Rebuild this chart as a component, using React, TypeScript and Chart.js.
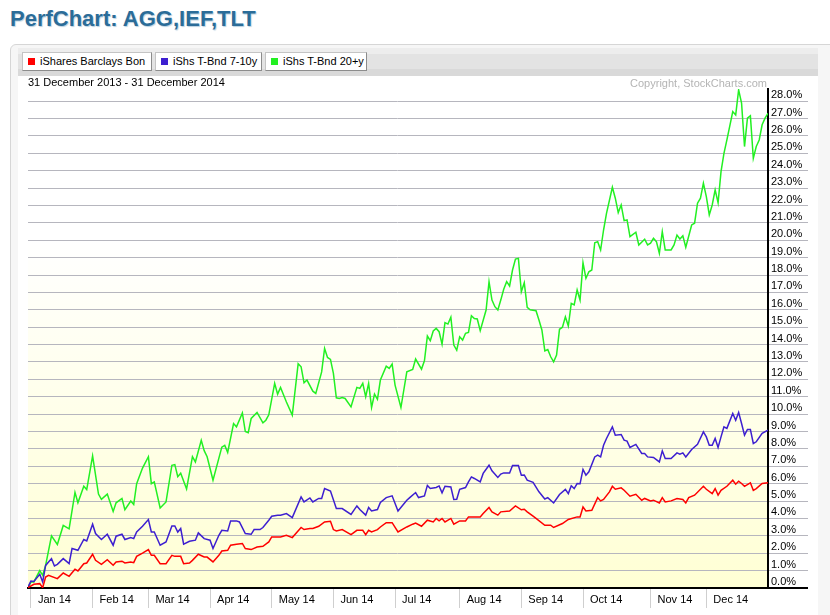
import React, { useEffect, useRef } from 'react';
import { Chart, registerables } from 'chart.js';

Chart.register(...registerables);

// ---- data ----
const seriesNames = ['iShares Barclays Bon', 'iShs T-Bnd 7-10y', 'iShs T-Bnd 20+y'];
const seriesColors = ['#ff0000', '#3d1fd0', '#22f022'];
const dateRange = '31 December 2013 - 31 December 2014';
const monthLabels = ['Jan 14', 'Feb 14', 'Mar 14', 'Apr 14', 'May 14', 'Jun 14', 'Jul 14', 'Aug 14', 'Sep 14', 'Oct 14', 'Nov 14', 'Dec 14'];
// trading-day index (0 = 31 Dec 2013) of the first trading day of each month
const monthStartDays = [1, 22, 41, 62, 83, 104, 125, 147, 168, 189, 212, 231];
const lastTradingDay = 252;
const yMaxPct = 28.7;

// AGG (red)
const aggDays = [0, 2, 4, 5, 6, 7, 10, 12, 14, 16, 17, 19, 20, 22, 23, 25, 27, 29, 30, 32, 33, 35, 36, 37, 39, 41, 42, 43, 45, 47, 49, 50, 52, 53, 55, 56, 58, 60, 61, 63, 65, 66, 68, 69, 71, 73, 74, 76, 78, 80, 82, 83, 86, 88, 90, 93, 94, 96, 97, 99, 101, 103, 104, 105, 107, 110, 112, 114, 115, 116, 117, 119, 120, 122, 124, 126, 129, 131, 132, 134, 136, 138, 139, 140, 141, 142, 144, 145, 147, 149, 150, 154, 155, 157, 158, 160, 161, 164, 166, 168, 169, 170, 172, 173, 176, 178, 179, 182, 184, 187, 188, 189, 190, 192, 194, 195, 196, 198, 199, 200, 202, 203, 205, 207, 209, 210, 212, 213, 215, 216, 217, 219, 221, 223, 224, 225, 227, 230, 231, 233, 234, 235, 236, 238, 240, 241, 242, 243, 244, 246, 247, 248, 250, 252];
const aggValues = [0.02, 0.21, 0.25, 0.02, 0.63, 0.73, 0.54, 0.86, 0.67, 1.08, 0.98, 1.4, 1.44, 1.94, 1.59, 1.36, 1.63, 1.31, 1.5, 1.54, 1.44, 1.5, 1.46, 1.82, 2.01, 2.21, 1.88, 1.88, 1.4, 1.4, 1.88, 1.82, 1.82, 1.4, 1.44, 1.59, 1.94, 1.78, 1.78, 1.5, 1.88, 2.13, 2.17, 2.46, 2.52, 2.56, 2.27, 2.21, 2.36, 2.4, 2.65, 2.94, 2.94, 3.03, 2.9, 3.48, 3.36, 3.42, 3.42, 3.55, 3.8, 3.84, 3.36, 3.28, 3.36, 3.07, 3.32, 3.32, 3.07, 3.32, 3.22, 3.36, 3.51, 3.76, 3.76, 3.22, 3.51, 3.67, 3.74, 3.55, 3.9, 3.8, 4.0, 3.86, 4.0, 3.8, 4.0, 3.67, 3.86, 3.86, 4.09, 4.09, 4.28, 4.63, 4.38, 4.19, 4.38, 4.43, 4.72, 4.5, 4.53, 4.38, 4.13, 4.0, 3.61, 3.61, 3.48, 3.71, 3.94, 4.09, 4.09, 4.66, 4.43, 4.47, 5.2, 5.01, 5.09, 5.53, 5.85, 5.68, 5.76, 5.62, 5.28, 5.39, 5.05, 5.15, 5.01, 5.05, 4.89, 5.2, 4.95, 5.01, 5.15, 5.09, 4.89, 5.2, 5.34, 5.85, 5.68, 5.43, 5.72, 5.34, 5.62, 5.85, 6.2, 5.97, 6.14, 6.01, 5.85, 6.05, 5.62, 5.72, 6.01, 6.05];

// IEF (blue)
const iefDays = [0, 1, 2, 4, 5, 6, 8, 9, 10, 12, 14, 15, 17, 19, 20, 22, 23, 25, 27, 29, 30, 32, 33, 35, 36, 37, 39, 41, 42, 43, 45, 47, 49, 50, 51, 52, 53, 55, 57, 58, 60, 62, 63, 65, 66, 68, 69, 71, 72, 74, 76, 77, 79, 80, 82, 83, 85, 86, 88, 90, 93, 94, 96, 97, 99, 100, 101, 103, 105, 107, 110, 112, 113, 115, 116, 117, 119, 120, 122, 124, 126, 129, 130, 132, 133, 135, 136, 137, 139, 140, 141, 142, 144, 145, 146, 147, 149, 150, 151, 152, 154, 155, 157, 158, 160, 161, 162, 164, 165, 167, 168, 169, 170, 172, 174, 176, 177, 179, 181, 183, 184, 185, 186, 187, 188, 189, 190, 191, 193, 194, 195, 196, 197, 199, 200, 202, 203, 204, 205, 207, 209, 210, 211, 213, 215, 216, 217, 219, 221, 222, 223, 224, 226, 228, 230, 231, 232, 233, 234, 235, 236, 237, 238, 240, 241, 242, 243, 244, 245, 246, 247, 248, 250, 252];
const iefValues = [0.06, 0.4, 0.38, 0.79, 0.35, 1.3, 1.69, 1.27, 1.36, 1.69, 1.4, 2.27, 2.17, 2.79, 2.71, 3.67, 3.13, 2.79, 3.09, 2.46, 2.98, 3.09, 2.79, 2.9, 2.84, 3.22, 3.55, 3.94, 3.22, 3.22, 2.46, 2.65, 3.57, 3.57, 3.22, 3.42, 2.52, 2.69, 2.75, 3.17, 2.84, 2.75, 2.27, 3.03, 3.32, 3.28, 3.86, 3.86, 3.8, 3.13, 3.09, 3.36, 3.36, 3.48, 3.9, 4.13, 4.19, 4.19, 4.28, 4.05, 5.24, 4.95, 5.18, 4.95, 5.15, 5.15, 5.72, 5.58, 4.57, 4.57, 4.23, 4.72, 4.51, 4.19, 4.63, 4.43, 4.51, 4.92, 5.2, 5.3, 4.43, 5.05, 5.2, 5.49, 5.2, 5.3, 5.9, 5.72, 5.78, 5.87, 5.47, 5.85, 5.81, 5.09, 5.1, 5.68, 5.78, 6.1, 6.39, 6.3, 6.1, 6.59, 7.06, 6.74, 6.36, 6.55, 6.62, 6.62, 7.05, 7.05, 6.49, 6.5, 6.2, 6.08, 5.53, 5.12, 5.2, 4.89, 5.38, 5.67, 5.43, 5.88, 5.72, 6.01, 6.0, 6.82, 6.49, 6.68, 7.54, 7.64, 7.54, 8.21, 8.6, 9.27, 8.79, 8.83, 8.5, 8.45, 8.08, 8.26, 7.74, 7.74, 7.54, 7.51, 7.25, 7.89, 7.45, 7.45, 7.77, 7.7, 7.77, 7.54, 7.97, 8.26, 8.98, 8.69, 8.21, 8.21, 8.6, 8.08, 8.69, 9.27, 9.18, 10.04, 9.65, 10.1, 9.46, 8.79, 9.12, 9.12, 8.31, 8.41, 8.89, 9.08];

// TLT (green)
const tltDays = [0, 1, 2, 4, 5, 6, 8, 10, 12, 14, 16, 17, 19, 20, 22, 24, 25, 27, 29, 30, 32, 33, 35, 36, 37, 39, 41, 42, 43, 45, 47, 49, 50, 51, 52, 54, 56, 57, 59, 60, 61, 63, 66, 67, 68, 70, 71, 73, 74, 75, 76, 78, 80, 81, 82, 84, 85, 86, 88, 90, 92, 93, 94, 95, 97, 98, 100, 101, 102, 103, 104, 105, 106, 107, 108, 110, 112, 113, 114, 115, 116, 117, 118, 119, 120, 122, 123, 124, 125, 127, 129, 131, 132, 134, 135, 136, 137, 138, 139, 140, 141, 142, 143, 144, 145, 146, 147, 148, 149, 150, 151, 152, 153, 154, 156, 157, 158, 159, 160, 161, 162, 163, 164, 165, 166, 167, 168, 169, 170, 171, 173, 174, 175, 176, 177, 178, 179, 180, 181, 182, 183, 184, 185, 186, 187, 188, 189, 190, 191, 192, 193, 194, 195, 196, 197, 199, 200, 201, 202, 203, 204, 205, 207, 208, 210, 211, 212, 213, 214, 215, 216, 217, 219, 220, 221, 222, 223, 224, 226, 227, 228, 229, 230, 231, 232, 233, 234, 235, 236, 237, 238, 240, 241, 242, 243, 244, 245, 246, 247, 248, 249, 250, 251, 252];
const tltValues = [0.0, 0.35, 0.35, 1.0, 0.73, 1.3, 3.0, 2.5, 3.6, 3.4, 5.5, 4.9, 5.85, 5.66, 7.6, 5.4, 5.1, 5.4, 4.4, 4.9, 5.15, 4.5, 5.0, 4.8, 6.0, 6.9, 7.55, 6.0, 6.1, 4.6, 4.95, 7.06, 7.1, 6.4, 6.6, 5.7, 7.55, 7.25, 8.5, 7.9, 7.55, 6.2, 8.1, 8.2, 7.8, 9.46, 9.27, 10.07, 9.0, 8.93, 9.75, 10.1, 9.5, 9.65, 9.96, 11.77, 11.15, 11.54, 10.7, 9.94, 12.9, 12.72, 11.8, 11.96, 11.32, 11.19, 12.43, 13.78, 13.26, 13.15, 12.34, 10.94, 10.9, 10.96, 10.9, 10.42, 11.54, 11.48, 11.77, 11.0, 11.77, 10.38, 11.15, 10.85, 11.96, 12.76, 12.63, 12.88, 11.67, 10.38, 12.43, 12.57, 13.17, 12.59, 13.07, 14.49, 14.22, 14.78, 14.93, 14.74, 14.03, 15.26, 15.18, 15.57, 13.97, 13.68, 14.45, 14.26, 14.65, 14.7, 15.66, 15.5, 15.47, 14.8, 15.99, 17.62, 16.56, 16.18, 15.99, 16.56, 17.18, 17.62, 17.37, 18.29, 18.92, 18.96, 17.04, 17.56, 16.14, 16.0, 15.95, 15.41, 14.84, 13.64, 13.72, 13.3, 13.01, 13.4, 14.88, 15.0, 15.6, 15.07, 16.37, 16.28, 17.14, 16.56, 18.71, 17.81, 18.19, 18.29, 19.86, 19.92, 19.44, 20.59, 21.55, 23.05, 22.42, 21.59, 22.03, 21.13, 21.17, 20.21, 20.46, 19.73, 20.06, 19.73, 19.83, 20.11, 19.92, 19.25, 20.5, 19.44, 19.44, 19.73, 20.3, 20.07, 20.26, 19.6, 20.88, 20.98, 22.13, 22.42, 23.28, 22.51, 21.46, 22.03, 22.9, 22.16, 23.95, 25.0, 25.77, 27.4, 27.21, 28.65, 27.89, 25.39, 27.02, 27.16, 24.72, 25.39, 25.77, 26.64, 27.02, 27.3];

const FONT = '"Liberation Sans", Arial, sans-serif';

const toPoints = (days: number[], values: number[]) => days.map((d, i) => ({ x: d, y: values[i] }));

const plotBackground = {
  id: 'plotBackground',
  beforeDraw(chart: any) {
    const { ctx, chartArea } = chart;
    if (!chartArea) return;
    const { left, right, top, bottom } = chartArea;
    const g = ctx.createLinearGradient(0, top, 0, bottom);
    g.addColorStop(0, '#ffffff');
    g.addColorStop(0.3, '#ffffff');
    g.addColorStop(1, '#ffffd4');
    ctx.save();
    ctx.fillStyle = g;
    ctx.fillRect(left, top, right - left, bottom - top);
    ctx.restore();
  },
};

function PerfChart() {
  const ref = useRef<HTMLCanvasElement | null>(null);
  useEffect(() => {
    if (!ref.current) return;
    const gridColor = (c: any) => (c.tick && c.tick.value === 0 ? '#000000' : '#b6b6be');
    const gridWidth = (c: any) => (c.tick && c.tick.value === 0 ? 2 : 1);
    const chart = new Chart(ref.current, {
      type: 'line',
      data: {
        datasets: [
          { label: seriesNames[0], data: toPoints(aggDays, aggValues), borderColor: seriesColors[0], backgroundColor: seriesColors[0] },
          { label: seriesNames[1], data: toPoints(iefDays, iefValues), borderColor: seriesColors[1], backgroundColor: seriesColors[1] },
          { label: seriesNames[2], data: toPoints(tltDays, tltValues), borderColor: seriesColors[2], backgroundColor: seriesColors[2] },
        ],
      },
      options: {
        animation: false,
        responsive: false,
        maintainAspectRatio: false,
        layout: { padding: { left: 10, top: 13, right: 0, bottom: 0 } },
        plugins: { legend: { display: false }, tooltip: { enabled: false }, title: { display: false } },
        elements: { point: { radius: 0 }, line: { borderWidth: 1.5, tension: 0 } },
        scales: {
          x: {
            type: 'linear',
            position: 'bottom',
            min: 0,
            max: lastTradingDay,
            afterBuildTicks: (s: any) => {
              s.ticks = monthStartDays.map((v) => ({ value: v }));
            },
            afterFit: (s: any) => {
              s.height = 27;
            },
            grid: { drawOnChartArea: false, drawTicks: true, tickLength: 20, color: '#cfcfcf', lineWidth: 1 },
            border: { display: true, color: '#000000', width: 2 },
            ticks: {
              autoSkip: false,
              maxRotation: 0,
              minRotation: 0,
              align: 'start',
              labelOffset: 7,
              padding: -15,
              color: '#000000',
              font: { family: FONT, size: 11 },
              callback: (_v: any, i: number) => monthLabels[i],
            },
          },
          y: {
            type: 'linear',
            position: 'right',
            min: 0,
            max: yMaxPct,
            afterFit: (s: any) => {
              s.width = 50;
            },
            grid: { color: gridColor, lineWidth: gridWidth, tickColor: gridColor, tickWidth: gridWidth, tickLength: 40 },
            border: { display: true, color: '#000000', width: 2 },
            ticks: {
              stepSize: 1,
              maxTicksLimit: 40,
              includeBounds: false,
              autoSkip: false,
              padding: -37,
              labelOffset: -6,
              color: '#000000',
              font: { family: FONT, size: 11 },
              callback: (v: any) => Number(v).toFixed(1) + '%',
            },
          },
        },
      } as any,
      plugins: [plotBackground],
    });
    return () => chart.destroy();
  }, []);
  return <canvas ref={ref} width={800} height={539} style={{ position: 'absolute', left: 18, top: 76, width: 800, height: 539 }} />;
}

const buttonDefs = [
  { left: 22, width: 130 },
  { left: 155, width: 107 },
  { left: 265, width: 102 },
];

export default function App() {
  return (
    <div style={{ position: 'absolute', left: 0, top: 0, width: 830, height: 615, overflow: 'hidden', background: '#ffffff', fontFamily: FONT }}>
      <div style={{ position: 'absolute', left: 10, top: 8, fontSize: 22, lineHeight: '22px', fontWeight: 'bold', color: '#2b6c98', whiteSpace: 'nowrap', textShadow: '1px 1px 1px #b9d0e0' }}>
        PerfChart: AGG,IEF,TLT
      </div>
      <div style={{ position: 'absolute', left: 10, top: 44, width: 850, height: 620, border: '1px solid #d6d6d6', borderRadius: 6, background: '#f6f6f6', boxSizing: 'border-box' }} />
      <div style={{ position: 'absolute', left: 18, top: 48, width: 800, height: 28, background: 'linear-gradient(#ededed 0px, #ededed 6px, #e3e3e3 6px, #e3e3e3 21px, #d9d9d9 21px, #d9d9d9 28px)' }} />
      <div style={{ position: 'absolute', left: 18, top: 76, width: 800, height: 539, background: '#ffffff' }} />
      {seriesNames.map((name, i) => (
        <div key={name} style={{ position: 'absolute', left: buttonDefs[i].left, top: 52, width: buttonDefs[i].width, height: 19, boxSizing: 'border-box', background: '#ffffff', border: '1px solid', borderColor: '#c4c4c4 #8c8c8c #8c8c8c #c4c4c4' }}>
          <div style={{ position: 'absolute', left: 5, top: 5, width: 7, height: 7, background: seriesColors[i] }} />
          <div style={{ position: 'absolute', left: 17, top: 0, fontSize: 11, lineHeight: '17px', color: '#000', whiteSpace: 'nowrap' }}>{name}</div>
        </div>
      ))}
      <PerfChart />
      <div style={{ position: 'absolute', left: 28, top: 76, fontSize: 11, lineHeight: '12px', color: '#000', whiteSpace: 'nowrap' }}>{dateRange}</div>
      <div style={{ position: 'absolute', right: 63, top: 77, fontSize: 11, lineHeight: '12px', color: '#b4b4b4', whiteSpace: 'nowrap' }}>Copyright, StockCharts.com</div>
    </div>
  );
}
